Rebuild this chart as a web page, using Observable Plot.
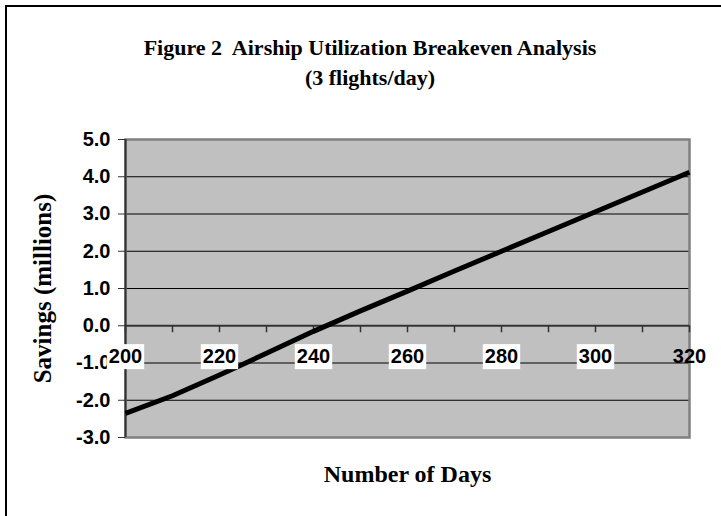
<!DOCTYPE html>
<html>
<head>
<meta charset="utf-8">
<script src="https://cdn.jsdelivr.net/npm/d3@7"></script>
<script src="https://cdn.jsdelivr.net/npm/@observablehq/plot@0.6"></script>
<style>
  html, body { margin: 0; padding: 0; background: #fff; }
  #wrap { position: relative; width: 721px; height: 516px; overflow: hidden; }
  #border { position: absolute; left: 5px; top: 5px; width: 740px; height: 540px;
            border-top: 2px solid #000; border-left: 2px solid #000; box-sizing: border-box; }
  #title { position: absolute; left: 0; width: 740px; top: 33px; text-align: center;
           font-family: "Liberation Serif", "Times New Roman", serif; font-weight: bold;
           font-size: 22px; line-height: 30px; color: #000; white-space: pre; }
  #chart { position: absolute; left: 0; top: 0; }
</style>
</head>
<body>
<div id="wrap">
  <div id="border"></div>
  <div id="title">Figure 2  Airship Utilization Breakeven Analysis
(3 flights/day)</div>
  <div id="chart"></div>
</div>
<script>
const days    = [200, 210, 220, 230, 240, 250, 260, 270, 280, 290, 300, 310, 320];
const savings = [-2.35, -1.88, -1.32, -0.74, -0.15, 0.40, 0.93, 1.47, 2.00, 2.53, 3.06, 3.59, 4.12];
const yTicks  = [-3, -2, -1, 0, 1, 2, 3, 4, 5];
const xMinorTicks = [200, 210, 220, 230, 240, 250, 260, 270, 280, 290, 300, 310, 320];
const xLabels = [200, 220, 240, 260, 280, 300, 320];
const xBoxed  = [200, 220, 240, 260, 280, 300];

const data = days.map((d, i) => ({day: d, value: savings[i]}));
const sans = "'Liberation Sans', Arial, sans-serif";
const serif = "'Liberation Serif', 'Times New Roman', serif";

const chart = Plot.plot({
  width: 721,
  height: 516,
  marginLeft: 125,
  marginRight: 32,
  marginTop: 139,
  marginBottom: 79,
  style: {background: "transparent", overflow: "visible"},
  x: {domain: [200, 320], axis: null, label: null},
  y: {domain: [-3, 5], axis: null, label: null},
  marks: [
    Plot.frame({fill: "#C0C0C0"}),
    Plot.ruleY(yTicks.filter(d => d !== 0), {stroke: "#000", strokeWidth: 1}),
    Plot.frame({stroke: "#808080", strokeWidth: 2.5}),
    Plot.ruleY([0], {stroke: "#333", strokeWidth: 2}),
    Plot.ruleX(xMinorTicks, {y1: 0, y2: 0, insetBottom: -7, stroke: "#333", strokeWidth: 1.5}),
    Plot.ruleX([200], {stroke: "#333", strokeWidth: 2}),
    Plot.axisY({
      ticks: yTicks, tickFormat: d => d.toFixed(1), tickSize: 7, tickPadding: 8, label: null,
      fontSize: 20, fontWeight: "bold", fontFamily: sans, stroke: "#333", color: "#000"
    }),
    Plot.line(data, {x: "day", y: "value", stroke: "#000", strokeWidth: 5, strokeLinejoin: "round", strokeLinecap: "butt"}),
    Plot.text(xLabels, {
      x: d => d, y: () => 0, dy: 31, text: d => String(d),
      fontSize: 20, fontWeight: "bold", fontFamily: sans, fill: "#000",
      className: "xlab"
    }),
    Plot.text(["Savings (millions)"], {
      frameAnchor: "left", textAnchor: "middle", dx: -83, rotate: -90, fontSize: 25, fontWeight: "bold",
      fontFamily: serif, fill: "#000"
    }),
    Plot.text(["Number of Days"], {
      frameAnchor: "bottom", dy: 44, fontSize: 24, fontWeight: "bold",
      fontFamily: serif, fill: "#000"
    })
  ]
});

document.getElementById("chart").appendChild(chart);

// white background boxes behind the x tick labels
const g = chart.querySelector("g.xlab") || Array.from(chart.querySelectorAll("g")).find(el => el.getAttribute("class") && el.getAttribute("class").includes("xlab"));
if (g) {
  const texts = Array.from(g.querySelectorAll("text"));
  texts.forEach((t, i) => {
    if (!xBoxed.includes(xLabels[i])) return;
    const b = t.getBBox();
    const ctm = t.getAttribute("transform");
    const r = document.createElementNS("http://www.w3.org/2000/svg", "rect");
    r.setAttribute("x", b.x - 2);
    r.setAttribute("y", b.y - 1);
    r.setAttribute("width", b.width + 4);
    r.setAttribute("height", b.height + 3);
    r.setAttribute("fill", "#fff");
    if (ctm) r.setAttribute("transform", ctm);
    g.insertBefore(r, g.firstChild);
  });
}
</script>
</body>
</html>
